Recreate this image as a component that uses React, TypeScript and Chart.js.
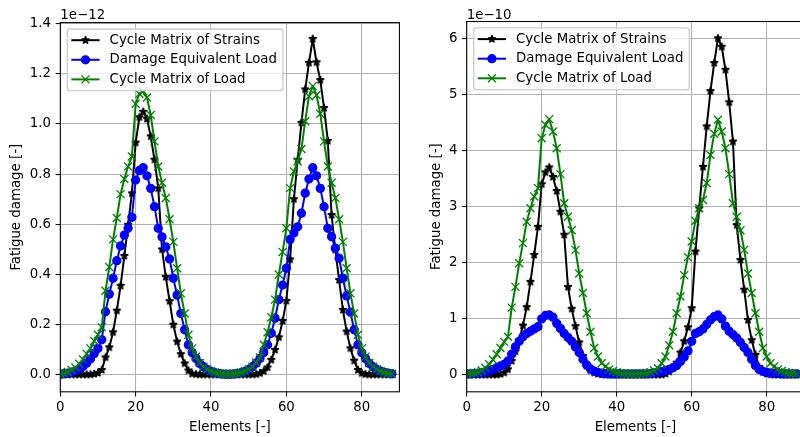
import React, { useEffect, useRef } from 'react';
import { Chart, registerables } from 'chart.js';

Chart.register(...registerables);

const FONT = 'DejaVu Sans';
const FS = 13.33;
Chart.defaults.font.family = FONT;
Chart.defaults.font.size = FS;

// ---------- data ----------
const ELEMENTS: number[] = Array.from({ length: 89 }, (_, i) => i);
const X_TICKS = [0, 20, 40, 60, 80];
const LEFT_Y_TICKS = [0, 0.2, 0.4, 0.6, 0.8, 1.0, 1.2, 1.4];
const RIGHT_Y_TICKS = [0, 1, 2, 3, 4, 5, 6];
const SERIES_LABELS = ['Cycle Matrix of Strains', 'Damage Equivalent Load', 'Cycle Matrix of Load'];
const X_TITLE = 'Elements [-]';
const Y_TITLE = 'Fatigue damage [-]';
const LEFT_EXPONENT = '1e\u221212';
const RIGHT_EXPONENT = '1e\u221210';

// left panel (x 1e-12)
const LEFT_STRAINS = [
  0.002, 0.002, 0.002, 0.002, 0.002, 0.002, 0.002, 0.002, 0.002, 0.004,
  0.008, 0.02, 0.07, 0.11, 0.17, 0.256, 0.355, 0.474, 0.598, 0.723,
  0.925, 1.026, 1.048, 1.02, 0.95, 0.857, 0.743, 0.5, 0.39, 0.294,
  0.2, 0.133, 0.083, 0.046, 0.018, 0.005, 0.003, 0.002, 0.002, 0.002,
  0.002, 0.002, 0.002, 0.002, 0.002, 0.002, 0.002, 0.002, 0.002, 0.002,
  0.002, 0.002, 0.003, 0.007, 0.015, 0.03, 0.06, 0.1, 0.15, 0.215,
  0.295, 0.46, 0.7, 0.856, 1.004, 1.137, 1.243, 1.338, 1.245, 1.174,
  1.063, 0.932, 0.637, 0.498, 0.378, 0.259, 0.173, 0.106, 0.057, 0.02,
  0.007, 0.003, 0.002, 0.002, 0.002, 0.002, 0.002, 0.002, 0.002,
];
const LEFT_DEL = [
  0.003, 0.005, 0.007, 0.011, 0.016, 0.024, 0.034, 0.047, 0.064, 0.085,
  0.106, 0.14, 0.252, 0.322, 0.385, 0.455, 0.514, 0.557, 0.584, 0.628,
  0.776, 0.814, 0.825, 0.793, 0.743, 0.67, 0.584, 0.55, 0.51, 0.462,
  0.385, 0.318, 0.245, 0.18, 0.12, 0.089, 0.066, 0.046, 0.033, 0.022,
  0.014, 0.009, 0.006, 0.004, 0.003, 0.003, 0.004, 0.006, 0.009, 0.014,
  0.022, 0.033, 0.047, 0.066, 0.09, 0.12, 0.166, 0.226, 0.3, 0.358,
  0.425, 0.54, 0.565, 0.59, 0.644, 0.724, 0.78, 0.825, 0.793, 0.743,
  0.67, 0.584, 0.551, 0.505, 0.465, 0.385, 0.315, 0.25, 0.18, 0.12,
  0.089, 0.066, 0.046, 0.033, 0.022, 0.015, 0.01, 0.007, 0.005,
];
const LEFT_LOAD = [
  0.005, 0.007, 0.012, 0.02, 0.03, 0.045, 0.062, 0.084, 0.106, 0.135,
  0.16, 0.19, 0.335, 0.43, 0.54, 0.625, 0.72, 0.78, 0.83, 0.87,
  1.08, 1.12, 1.13, 1.105, 1.035, 0.93, 0.83, 0.765, 0.705, 0.62,
  0.53, 0.425, 0.325, 0.245, 0.16, 0.106, 0.073, 0.048, 0.033, 0.022,
  0.015, 0.01, 0.007, 0.005, 0.004, 0.004, 0.005, 0.007, 0.01, 0.015,
  0.022, 0.033, 0.05, 0.07, 0.12, 0.17, 0.23, 0.3, 0.4, 0.49,
  0.584, 0.744, 0.81, 0.85, 0.9, 1.01, 1.11, 1.15, 1.115, 1.04,
  0.93, 0.83, 0.765, 0.705, 0.62, 0.53, 0.425, 0.325, 0.245, 0.16,
  0.106, 0.073, 0.048, 0.033, 0.022, 0.015, 0.01, 0.007, 0.005,
];

// right panel (x 1e-10)
const RIGHT_STRAINS = [
  0.005, 0.005, 0.005, 0.005, 0.005, 0.005, 0.005, 0.005, 0.005, 0.015,
  0.04, 0.1, 0.25, 0.42, 0.62, 0.88, 1.21, 1.66, 2.14, 2.64,
  3.4, 3.61, 3.7, 3.53, 3.28, 2.91, 2.5, 1.57, 1.18, 0.87,
  0.58, 0.34, 0.16, 0.08, 0.04, 0.02, 0.01, 0.005, 0.005, 0.005,
  0.005, 0.005, 0.005, 0.005, 0.005, 0.005, 0.005, 0.005, 0.005, 0.005,
  0.005, 0.005, 0.005, 0.02, 0.06, 0.12, 0.22, 0.4, 0.6, 0.85,
  1.19, 2.2, 2.97, 3.71, 4.43, 5.06, 5.56, 6.0, 5.85, 5.44,
  4.86, 4.16, 2.67, 2.05, 1.52, 0.98, 0.62, 0.36, 0.14, 0.05,
  0.02, 0.01, 0.005, 0.005, 0.005, 0.005, 0.005, 0.005, 0.005,
];
const RIGHT_DEL = [
  0.02, 0.02, 0.025, 0.03, 0.04, 0.055, 0.075, 0.1, 0.13, 0.16,
  0.19, 0.25, 0.37, 0.5, 0.6, 0.68, 0.74, 0.78, 0.82, 0.86,
  1.0, 1.06, 1.07, 1.03, 0.92, 0.83, 0.74, 0.67, 0.6, 0.5,
  0.4, 0.28, 0.18, 0.11, 0.07, 0.045, 0.032, 0.025, 0.02, 0.018,
  0.018, 0.018, 0.018, 0.018, 0.018, 0.018, 0.018, 0.018, 0.02, 0.025,
  0.035, 0.045, 0.06, 0.08, 0.1, 0.13, 0.17, 0.24, 0.32, 0.43,
  0.6, 0.74, 0.77, 0.82, 0.9, 0.98, 1.04, 1.07, 1.0, 0.87,
  0.78, 0.72, 0.66, 0.58, 0.49, 0.4, 0.28, 0.17, 0.1, 0.065,
  0.045, 0.035, 0.03, 0.025, 0.02, 0.02, 0.02, 0.02, 0.02,
];
const RIGHT_LOAD = [
  0.02, 0.025, 0.035, 0.05, 0.08, 0.13, 0.19, 0.27, 0.37, 0.48,
  0.59, 0.68, 1.2, 1.57, 1.99, 2.35, 2.73, 2.97, 3.18, 3.33,
  4.22, 4.46, 4.56, 4.34, 4.04, 3.58, 3.06, 2.82, 2.58, 2.23,
  1.81, 1.46, 1.1, 0.77, 0.48, 0.33, 0.21, 0.15, 0.1, 0.07,
  0.05, 0.035, 0.027, 0.02, 0.018, 0.018, 0.02, 0.025, 0.035, 0.05,
  0.08, 0.12, 0.21, 0.33, 0.53, 0.77, 1.1, 1.4, 1.78, 2.1,
  2.38, 2.75, 2.97, 3.12, 3.42, 3.92, 4.3, 4.55, 4.34, 4.04,
  3.58, 3.06, 2.82, 2.58, 2.23, 1.81, 1.46, 1.1, 0.77, 0.48,
  0.33, 0.21, 0.15, 0.1, 0.07, 0.05, 0.035, 0.027, 0.02,
];

const COLORS = ['#000000', '#0000ff', '#008000'];

type Panel = {
  strains: number[];
  del: number[];
  load: number[];
  yTicks: number[];
  yMin: number;
  yMax: number;
  fmt: (v: number) => string;
  exponent: string;
  yAxisWidth: number;
  yTitlePad: number;
  padTop: number;
  padRight: number;
};

const LEFT_PANEL: Panel = {
  strains: LEFT_STRAINS, del: LEFT_DEL, load: LEFT_LOAD,
  yTicks: LEFT_Y_TICKS, yMin: -0.067, yMax: 1.403,
  fmt: (v) => v.toFixed(1), exponent: LEFT_EXPONENT,
  yAxisWidth: 60.3, yTitlePad: 8.7, padTop: 22.6, padRight: 0.6,
};
const RIGHT_PANEL: Panel = {
  strains: RIGHT_STRAINS, del: RIGHT_DEL, load: RIGHT_LOAD,
  yTicks: RIGHT_Y_TICKS, yMin: -0.3, yMax: 6.3,
  fmt: (v) => String(v), exponent: RIGHT_EXPONENT,
  yAxisWidth: 66.7, yTitlePad: 29, padTop: 21.5, padRight: 1.8,
};

function drawStarPath(ctx: CanvasRenderingContext2D, x: number, y: number, R: number) {
  const r = R * 0.381966;
  ctx.beginPath();
  for (let k = 0; k < 10; k++) {
    const ang = -Math.PI / 2 + (k * Math.PI) / 5;
    const rad = k % 2 === 0 ? R : r;
    const px = x + rad * Math.cos(ang);
    const py = y + rad * Math.sin(ang);
    if (k === 0) ctx.moveTo(px, py);
    else ctx.lineTo(px, py);
  }
  ctx.closePath();
}

function makeStar(color: string): HTMLCanvasElement {
  const c = document.createElement('canvas');
  c.width = 14;
  c.height = 14;
  const ctx = c.getContext('2d')!;
  drawStarPath(ctx, 7, 7, 4);
  ctx.fillStyle = color;
  ctx.fill();
  ctx.lineWidth = 1.33;
  ctx.strokeStyle = color;
  ctx.lineJoin = 'bevel';
  ctx.stroke();
  return c;
}

function drawMarker(ctx: CanvasRenderingContext2D, k: number, x: number, y: number) {
  const col = COLORS[k];
  ctx.save();
  ctx.fillStyle = col;
  ctx.strokeStyle = col;
  ctx.lineWidth = 1.33;
  if (k === 0) {
    drawStarPath(ctx, x, y, 4);
    ctx.lineJoin = 'bevel';
    ctx.fill();
    ctx.stroke();
  } else if (k === 1) {
    ctx.beginPath();
    ctx.arc(x, y, 4, 0, Math.PI * 2);
    ctx.fill();
    ctx.stroke();
  } else {
    ctx.beginPath();
    ctx.moveTo(x - 4, y - 4);
    ctx.lineTo(x + 4, y + 4);
    ctx.moveTo(x - 4, y + 4);
    ctx.lineTo(x + 4, y - 4);
    ctx.stroke();
  }
  ctx.restore();
}

function roundRectPath(ctx: CanvasRenderingContext2D, x: number, y: number, w: number, h: number, r: number) {
  ctx.beginPath();
  ctx.moveTo(x + r, y);
  ctx.lineTo(x + w - r, y);
  ctx.arcTo(x + w, y, x + w, y + r, r);
  ctx.lineTo(x + w, y + h - r);
  ctx.arcTo(x + w, y + h, x + w - r, y + h, r);
  ctx.lineTo(x + r, y + h);
  ctx.arcTo(x, y + h, x, y + h - r, r);
  ctx.lineTo(x, y + r);
  ctx.arcTo(x, y, x + r, y, r);
  ctx.closePath();
}

function buildChart(canvas: HTMLCanvasElement, p: Panel): Chart {
  const star = makeStar(COLORS[0]);
  const seriesValues = [p.strains, p.del, p.load];
  const styles: any[] = [
    { pointStyle: star, pointRadius: 4, order: 3 },
    { pointStyle: 'circle', pointRadius: 4, order: 2 },
    { pointStyle: 'crossRot', pointRadius: 5.66, order: 1 },
  ];
  const datasets = seriesValues.map((vals, k) => ({
    label: SERIES_LABELS[k],
    data: ELEMENTS.map((x, i) => ({ x, y: vals[i] })),
    borderColor: COLORS[k],
    backgroundColor: COLORS[k],
    borderWidth: 2,
    borderJoinStyle: 'round' as const,
    tension: 0,
    fill: false,
    clip: 0,
    pointBorderWidth: 1.33,
    pointHoverRadius: styles[k].pointRadius,
    ...styles[k],
  }));

  const decor = {
    id: 'decor',
    afterDatasetsDraw(chart: any) {
      const { ctx, chartArea: ca } = chart;
      ctx.save();
      ctx.strokeStyle = '#000';
      ctx.lineWidth = 1.07;
      ctx.strokeRect(ca.left, ca.top, ca.right - ca.left, ca.bottom - ca.top);
      ctx.restore();
    },
    afterDraw(chart: any) {
      const { ctx, chartArea: ca } = chart;
      ctx.save();
      ctx.font = `${FS}px "${FONT}"`;
      ctx.fillStyle = '#000';
      ctx.textAlign = 'left';
      ctx.textBaseline = 'alphabetic';
      ctx.fillText(p.exponent, ca.left, 19);
      const bx = ca.left + 7, by = ca.top + 6.4, bw = 215.6, bh = 61.7;
      roundRectPath(ctx, bx, by, bw, bh, 2.7);
      ctx.fillStyle = 'rgba(255,255,255,0.8)';
      ctx.fill();
      ctx.lineWidth = 1.33;
      ctx.strokeStyle = '#cccccc';
      ctx.stroke();
      for (let k = 0; k < 3; k++) {
        const cy = by + 11.2 + k * 19.6;
        ctx.beginPath();
        ctx.moveTo(bx + 4, cy);
        ctx.lineTo(bx + 32.3, cy);
        ctx.strokeStyle = COLORS[k];
        ctx.lineWidth = 2;
        ctx.stroke();
        drawMarker(ctx, k, bx + 18.2, cy);
        ctx.fillStyle = '#000';
        ctx.textBaseline = 'middle';
        ctx.font = `${FS}px "${FONT}"`;
        ctx.fillText(SERIES_LABELS[k], bx + 42.3, cy);
      }
      ctx.restore();
    },
  };

  const tickFont = { family: FONT, size: FS };
  const grid = {
    color: '#b0b0b0',
    lineWidth: 1.07,
    tickColor: '#000',
    tickLength: 4.67,
    tickWidth: 1.07,
    drawTicks: true,
  };

  return new Chart(canvas, {
    type: 'line',
    data: { datasets: datasets as any },
    plugins: [decor],
    options: {
      responsive: false,
      animation: false,
      devicePixelRatio: 1,
      parsing: false as any,
      normalized: true,
      layout: {
        autoPadding: false,
        padding: { left: 0, right: p.padRight, top: p.padTop, bottom: 0 },
      },
      plugins: {
        legend: { display: false },
        tooltip: { enabled: false },
        title: { display: false },
      },
      events: [],
      scales: {
        x: {
          type: 'linear',
          min: 0,
          max: 90,
          afterBuildTicks: (s: any) => {
            s.ticks = X_TICKS.map((v) => ({ value: v }));
          },
          afterFit: (s: any) => {
            s.height = 45.2;
            s.paddingLeft = 0;
            s.paddingRight = 0;
          },
          ticks: {
            autoSkip: false,
            maxRotation: 0,
            minRotation: 0,
            padding: 3,
            color: '#000',
            font: tickFont,
            callback: (v: any) => String(v),
          },
          grid,
          border: { display: false },
          title: {
            display: true,
            text: X_TITLE,
            color: '#000',
            font: tickFont,
            padding: { top: 0, bottom: 1.5 },
          },
        },
        y: {
          type: 'linear',
          min: p.yMin,
          max: p.yMax,
          afterBuildTicks: (s: any) => {
            s.ticks = p.yTicks.map((v) => ({ value: v }));
          },
          afterFit: (s: any) => {
            s.width = p.yAxisWidth;
            s.paddingTop = 0;
            s.paddingBottom = 0;
          },
          ticks: {
            autoSkip: false,
            padding: 4.67,
            color: '#000',
            font: tickFont,
            callback: (v: any) => p.fmt(Number(v)),
          },
          grid,
          border: { display: false },
          title: {
            display: true,
            text: Y_TITLE,
            color: '#000',
            font: tickFont,
            padding: { top: p.yTitlePad, bottom: 0 },
          },
        },
      },
    } as any,
  });
}

export default function App() {
  const leftRef = useRef<HTMLCanvasElement>(null);
  const rightRef = useRef<HTMLCanvasElement>(null);

  useEffect(() => {
    const charts: Chart[] = [];
    if (leftRef.current) charts.push(buildChart(leftRef.current, LEFT_PANEL));
    if (rightRef.current) charts.push(buildChart(rightRef.current, RIGHT_PANEL));
    return () => charts.forEach((c) => c.destroy());
  }, []);

  return (
    <div
      style={{
        position: 'fixed',
        left: 0,
        top: 0,
        width: 800,
        height: 437,
        overflow: 'hidden',
        background: '#ffffff',
      }}
    >
      <canvas
        ref={leftRef}
        width={400}
        height={437}
        style={{ position: 'absolute', left: 0, top: 0, width: 400, height: 437 }}
      />
      <canvas
        ref={rightRef}
        width={406}
        height={437}
        style={{ position: 'absolute', left: 400, top: 0, width: 406, height: 437 }}
      />
    </div>
  );
}
